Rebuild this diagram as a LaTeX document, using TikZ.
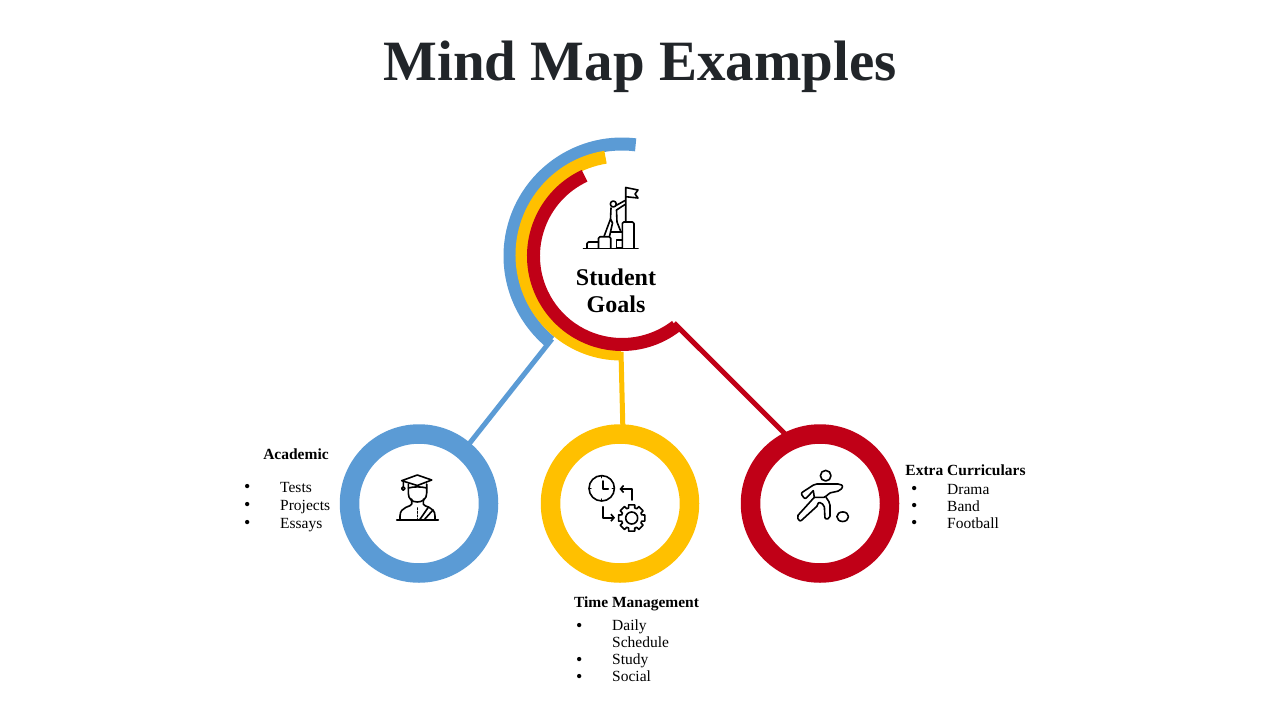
\documentclass[tikz,border=0pt]{standalone}
\usepackage{fontspec}
\setmainfont{Liberation Serif}
\usepackage{xcolor}
\usetikzlibrary{arrows.meta,positioning}
\definecolor{bluemap}{HTML}{5B9BD5}
\definecolor{yellowmap}{HTML}{FFC000}
\definecolor{redmap}{HTML}{C00017}
\definecolor{titlegray}{HTML}{212529}
\newcommand{\bul}{\makebox[36pt][l]{\raisebox{-0.6pt}[0pt][0pt]{\fontsize{18}{17}\selectfont\textbullet}}}
\begin{document}
\begin{tikzpicture}[x=1pt,y=-1pt, >={Straight Barb[length=3pt,width=7pt]},
  ring/.style={circle,draw,line width=19.5pt,minimum size=139pt,inner sep=0pt,fill=white},
  link/.style={line width=5pt,shorten >=-2pt},
  icon/.style={line width=1.6pt,line join=round,line cap=round,black},
  head/.style={font=\bfseries\fontsize{15.5}{18}\selectfont,inner sep=0pt},
  items/.style={font=\fontsize{15.5}{18}\selectfont,align=left,anchor=north west,inner sep=0pt}]
\useasboundingbox (0,0) rectangle (1280,720);
\node[font=\bfseries\fontsize{57}{60}\selectfont,text=titlegray] (title) at (640,67) {Mind Map Examples};

% rings round the goal
\coordinate (hub) at (622,256);
\coordinate (yellowhub) at (621,255);
\draw[bluemap,line width=13pt] (hub) ++(-83:112) arc[start angle=-83,end angle=-230,radius=112];
\draw[yellowmap,line width=13pt] (yellowhub) ++(-99:99) arc[start angle=-99,end angle=-270,radius=99];
\draw[redmap,line width=13pt] (hub) ++(-115:88.5) arc[start angle=-115,end angle=-307.5,radius=88.5];
\coordinate (bluefoot) at (552,339);
\coordinate (yellowfoot) at (621,352);
\coordinate (redfoot) at (674,323);

\node[ring,draw=bluemap] (academic) at (419,503.5) {};
\node[ring,draw=yellowmap] (time) at (620,503.5) {};
\node[ring,draw=redmap] (extra) at (820,503.5) {};
\draw[link,bluemap] (bluefoot) -- (academic.50);
\draw[link,yellowmap] (yellowfoot) -- (time.88);
\draw[link,redmap] (redfoot) -- (extra.117);

\node[font=\bfseries\fontsize{24}{27.5}\selectfont,align=center,inner sep=0pt] (goals) at (616,291) {Student\\Goals};
\node[head] (academichead) at (296,454) {Academic};
\node[items] (academicitems) at (244,482) {\bul Tests\\\bul Projects\\\bul Essays};
\node[head] (timehead) at (636.5,604) {Time Management};
\node[items,font=\fontsize{15.5}{17}\selectfont] (timeitems) at (576,619.5) {\bul Daily\\\hspace*{36pt}Schedule\\\bul Study\\\bul Social};
\node[head] (extrahead) at (965.5,470) {Extra Curriculars};
\node[items,font=\fontsize{15.5}{17}\selectfont] (extraitems) at (911,484) {\bul Drama\\\bul Band\\\bul Football};

% flag on the steps
\draw[icon] (583.5,248.3) -- (638,248.3);
\draw[icon,rounded corners=1.5pt] (587,248) -- (587,242) -- (598.5,242);
\draw[icon,rounded corners=1.5pt] (598.5,248) -- (598.5,236.7) -- (610.7,236.7) -- (610.7,248);
\draw[icon,rounded corners=1.5pt] (622.3,248) -- (622.3,222) -- (634,222) -- (634,248);
\draw[icon] (610.7,232) -- (622.3,232) (616.5,248) -- (622,248) (622.3,240) -- (616.5,240) -- (616.5,248);
\draw[icon] (625.7,222) -- (625.7,187.5) -- (638,190) -- (635,194) -- (638,198) -- (625.7,196.7);
\draw[icon] (613.3,204) circle[radius=3];
\draw[icon] (625,200.5) -- (616,205.5) (625,204.5) -- (616.5,210) -- (617,222) -- (621,232);
\draw[icon] (611,208) -- (610.5,219) -- (604,236.5) (610.5,219) -- (612.5,223) -- (609.5,236.5);

% graduate
\draw[icon] (396.7,520) -- (438.3,520);
\draw[icon] (401.7,480.7) -- (417.3,475) -- (431.7,480) -- (417.3,485.5) -- cycle;
\draw[icon] (403.3,481) -- (403.3,486.5) (403.3,488.5) circle[radius=1.7];
\draw[icon] (408.3,484) -- (408.3,493) .. controls (408.3,499) and (412,502) .. (417.3,502) .. controls (422.5,502) and (426.7,499) .. (426.7,493) -- (426.7,484);
\draw[icon] (408.3,488) .. controls (414,486.5) and (421,486.5) .. (426.7,488);
\draw[icon] (411.7,499) -- (411.7,504) .. controls (411.7,507) and (400,506) .. (400,516) -- (400,520);
\draw[icon] (423.3,499) -- (423.3,504) .. controls (423.3,507) and (435,506) .. (435,516) -- (435,520);
\draw[icon] (428.5,507) -- (419.5,520) (433,510) -- (424,520);
\draw[icon,dotted] (417.3,508) -- (417.3,519);

% clock and gear
\draw[icon] (601.7,488.3) circle[radius=12.7];
\draw[icon] (602.7,481) -- (602.7,489) -- (608.3,489);
\foreach \a in {0,90,180,270} \draw[icon,line width=1pt] (601.7,488.3) ++(\a:12) -- ++(\a:-1.5);
\draw[icon,->] (602.7,506.7) -- (602.7,517.7) -- (615,517.7);
\draw[icon,->] (631.7,500) -- (631.7,489) -- (619.5,489);
\coordinate (gear) at (631.7,518);
\draw[icon] (gear) circle[radius=6];
\draw[icon] (gear) ++(-17:10.5) \foreach \a in {0,45,...,315}{ -- ([shift={(\a-13:13.5)}]gear) -- ([shift={(\a+13:13.5)}]gear) -- ([shift={(\a+17:10.5)}]gear) -- ([shift={(\a+28:10.5)}]gear) } -- cycle;

% player with ball
\draw[icon] (825.7,475.7) circle[radius=5.3];
\draw[icon] (842.7,516.7) ellipse[x radius=5.8,y radius=4.8];
\draw[icon,rounded corners=2pt] (813.3,490.7) -- (805,499.3) -- (800.7,493.3) -- (815,484) -- (840,484) -- (843.3,486) -- (840,490.7) -- (828.3,493.3) -- (826,497.3) -- (814.3,497.3);
\draw[icon] (813.3,490.7) -- (814.3,497.3);
\draw[icon,rounded corners=2pt] (814.3,497.3) -- (796.7,516.7) -- (800,521.7) -- (818.3,505) -- (818.3,501.7) -- (824.3,505) -- (825,519.3) -- (830,518.3) -- (830,503.3) -- (826,497.3);
\end{tikzpicture}
\end{document}
